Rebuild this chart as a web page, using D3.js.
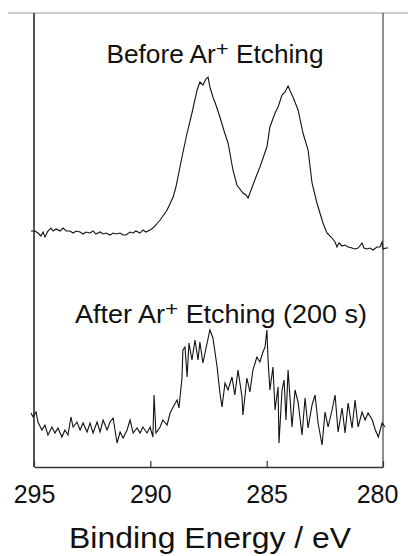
<!DOCTYPE html>
<html>
<head>
<meta charset="utf-8">
<script src="https://cdn.jsdelivr.net/npm/d3@7"></script>
<style>
  html, body { margin: 0; padding: 0; background: #fff; }
  svg { display: block; font-family: "Liberation Sans", Arial, sans-serif; }
</style>
</head>
<body>
<svg id="chart" width="408" height="556"></svg>
<script>
// binding energy (eV) and intensity (a.u., offset spectra)
const beforeEnergy = [
  295.13, 294.96, 294.83, 294.70, 294.61, 294.53, 294.40, 294.27, 294.18, 294.05,
  293.88, 293.75, 293.62, 293.45, 293.32, 293.19, 293.02, 292.89, 292.77, 292.59,
  292.46, 292.34, 292.16, 292.03, 291.91, 291.73, 291.60, 291.48, 291.30, 291.17,
  291.05, 290.87, 290.74, 290.62, 290.44, 290.32, 290.19, 290.01, 289.89, 289.76,
  289.58, 289.28, 289.02, 288.90, 288.64, 288.42, 288.21, 287.99, 287.87, 287.74,
  287.61, 287.52, 287.44, 287.31, 287.18, 287.01, 286.83, 286.66, 286.45, 286.28,
  286.15, 286.02, 285.89, 285.80, 285.59, 285.46, 285.29, 285.11, 284.99, 284.86,
  284.64, 284.51, 284.34, 284.21, 284.08, 283.99, 283.87, 283.65, 283.44, 283.22,
  283.05, 282.84, 282.71, 282.58, 282.41, 282.19, 282.06, 281.98, 281.89, 281.76,
  281.63, 281.50, 281.33, 281.20, 281.07, 280.90, 280.82, 280.69, 280.56, 280.43,
  280.26, 280.13, 280.04, 280.00, 279.87, 279.78
];
const beforeIntensity = [
  236, 236, 234, 231, 235, 230, 236, 239, 236, 238,
  236, 239, 236, 236, 234, 236, 235, 233, 235, 234,
  236, 233, 235, 233, 234, 232, 234, 233, 234, 232,
  232, 235, 234, 236, 234, 237, 235, 237, 239, 242,
  247, 257, 270, 280, 310, 334, 354, 377, 385, 382,
  388, 390, 380, 370, 362, 350, 336, 324, 297, 282,
  278, 274, 272, 269, 282, 290, 300, 312, 320, 340,
  354, 360, 372, 375, 381, 376, 370, 357, 334, 317,
  284, 264, 254, 244, 234, 229, 225, 220, 224, 221,
  222, 220, 219, 218, 219, 224, 219, 218, 219, 217,
  220, 220, 225, 218, 219, 219
];

const afterEnergy = [
  295.13, 295.04, 294.91, 294.83, 294.66, 294.53, 294.40, 294.23, 294.10, 293.97,
  293.80, 293.67, 293.54, 293.41, 293.32, 293.15, 293.02, 292.89, 292.72, 292.59,
  292.46, 292.29, 292.16, 292.03, 291.86, 291.73, 291.60, 291.43, 291.30, 291.17,
  291.00, 290.87, 290.74, 290.57, 290.44, 290.32, 290.14, 290.01, 289.89, 289.84,
  289.76, 289.58, 289.46, 289.28, 289.15, 289.02, 288.85, 288.77, 288.64, 288.60,
  288.51, 288.42, 288.34, 288.21, 288.08, 287.95, 287.87, 287.74, 287.56, 287.44,
  287.31, 287.13, 287.01, 286.92, 286.79, 286.66, 286.49, 286.37, 286.23, 286.06,
  286.02, 285.85, 285.72, 285.59, 285.42, 285.29, 285.16, 285.07, 284.99, 284.94,
  284.86, 284.73, 284.64, 284.51, 284.47, 284.34, 284.25, 284.17, 284.08, 283.91,
  283.78, 283.65, 283.48, 283.35, 283.22, 283.05, 282.92, 282.79, 282.62, 282.49,
  282.36, 282.19, 282.06, 281.93, 281.76, 281.63, 281.50, 281.33, 281.20, 281.07,
  280.90, 280.77, 280.64, 280.46, 280.33, 280.20, 280.04, 279.91
];
const afterIntensity = [
  54, 50, 55, 45, 37, 42, 32, 40, 34, 39,
  30, 37, 32, 50, 40, 45, 37, 44, 35, 44,
  34, 45, 35, 47, 37, 45, 49, 24, 35, 29,
  37, 47, 34, 39, 34, 40, 34, 40, 30, 72,
  34, 40, 47, 42, 54, 60, 67, 59, 89, 117,
  120, 90, 124, 107, 127, 107, 125, 104, 124, 137,
  129, 100, 74, 60, 84, 77, 90, 72, 97, 70,
  52, 89, 75, 97, 110, 105, 115, 120, 137, 107,
  77, 100, 57, 80, 24, 77, 87, 47, 97, 40,
  77, 65, 32, 69, 39, 62, 72, 44, 22, 55,
  40, 57, 72, 35, 59, 34, 64, 39, 67, 40,
  55, 47, 54, 47, 37, 30, 44, 40
];

const xTicks = [295, 290, 285, 280];
const xTitle = "Binding Energy / eV";

const svg = d3.select("#chart");
const mLeft = 34, mRight = 383, mTop = 13, mBottom = 467;

const x = d3.scaleLinear().domain([295, 280]).range([mLeft, mRight]);
const y = d3.scaleLinear().domain([0, 454]).range([mBottom, mTop]);

// frame
svg.append("line")
  .attr("x1", 8).attr("x2", 408).attr("y1", mTop).attr("y2", mTop)
  .attr("stroke", "#9a9a9a").attr("stroke-width", 1.2);
svg.append("line")
  .attr("x1", mRight).attr("x2", mRight).attr("y1", mTop).attr("y2", mBottom)
  .attr("stroke", "#444").attr("stroke-width", 1.2);
svg.append("line")
  .attr("x1", mLeft).attr("x2", mLeft).attr("y1", mTop).attr("y2", mBottom)
  .attr("stroke", "#555").attr("stroke-width", 2);

const xAxis = svg.append("g")
  .attr("transform", `translate(0,${mBottom})`)
  .call(d3.axisBottom(x).tickValues(xTicks).tickFormat(d3.format("d"))
    .tickSizeInner(-6).tickSizeOuter(0).tickPadding(18));
xAxis.select(".domain").attr("stroke", "#333").attr("stroke-width", 1.5);
xAxis.selectAll(".tick line").attr("stroke", "#333").attr("stroke-width", 1.2);
xAxis.selectAll(".tick text")
  .attr("font-size", 25)
  .attr("fill", "#111")
  .attr("font-family", "'Liberation Sans', Arial, sans-serif")
  .attr("dx", d => d === 280 ? -6 : 0);

const line = d3.line()
  .x(d => x(d[0]))
  .y(d => y(d[1]));

svg.append("path")
  .datum(d3.zip(beforeEnergy, beforeIntensity))
  .attr("fill", "none").attr("stroke", "#111").attr("stroke-width", 1.1)
  .attr("d", line);

svg.append("path")
  .datum(d3.zip(afterEnergy, afterIntensity))
  .attr("fill", "none").attr("stroke", "#111").attr("stroke-width", 1.1)
  .attr("d", line);

function label(cx, cy, pre, post, sx) {
  const t = svg.append("text")
    .attr("transform", `translate(${cx},${cy}) scale(${sx},1)`)
    .attr("text-anchor", "middle")
    .attr("font-size", 25)
    .attr("fill", "#111");
  t.append("tspan").text(pre);
  t.append("tspan").attr("font-size", 21).attr("dy", -7).text("+");
  t.append("tspan").attr("dy", 7).text(post);
}

label(215, 63, "Before Ar", " Etching", 1.05);
label(221, 323, "After Ar", " Etching (200 s)", 1.08);

svg.append("text")
  .attr("transform", `translate(210,548) scale(1.1,1)`)
  .attr("text-anchor", "middle")
  .attr("font-size", 29)
  .attr("fill", "#111")
  .text(xTitle);
</script>
</body>
</html>
